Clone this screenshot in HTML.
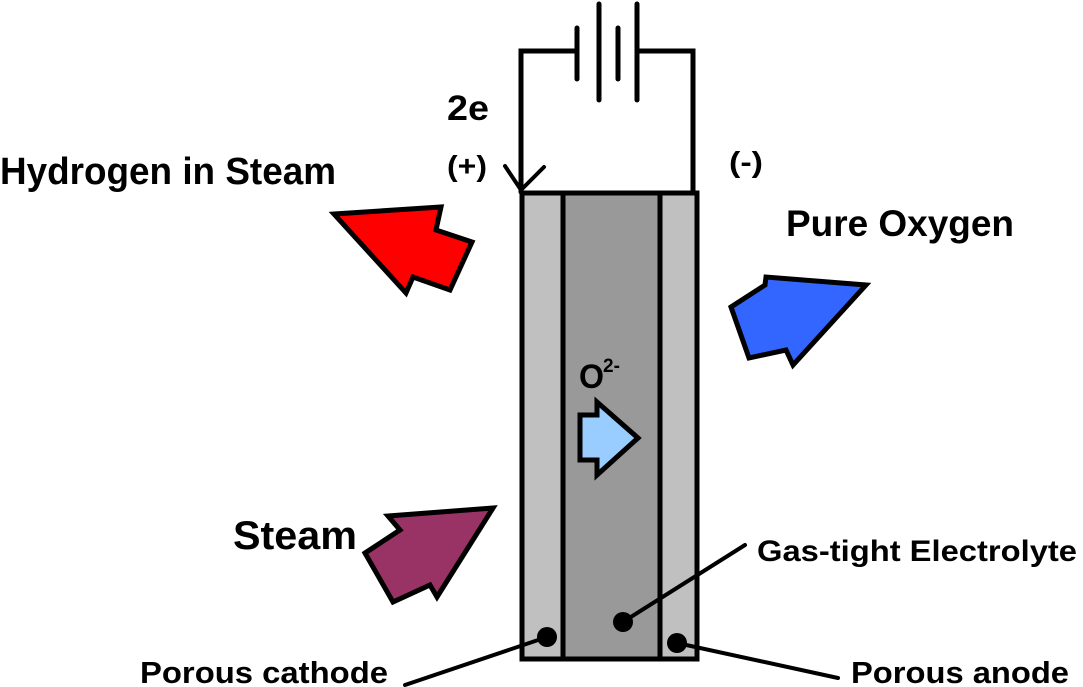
<!DOCTYPE html>
<html><head><meta charset="utf-8"><style>html,body{margin:0;padding:0;background:#fff}svg{display:block}</style></head>
<body>
<svg width="1083" height="687" viewBox="0 0 1083 687" xmlns="http://www.w3.org/2000/svg" style="font-family:'Liberation Sans',Arial,sans-serif;font-weight:bold">
<rect width="1083" height="687" fill="#fff"/>
<g stroke="#000" stroke-width="5" fill="none" stroke-linecap="round" stroke-linejoin="miter">
<polyline points="521,192 521,51 577,51"/>
<polyline points="637,51 693,51 693,192"/>
<line x1="577" y1="28" x2="577" y2="79"/>
<line x1="599" y1="4" x2="599" y2="100"/>
<line x1="618" y1="28" x2="618" y2="79"/>
<line x1="637" y1="4" x2="637" y2="100"/>
<polyline points="505,166 521,190 544,167" stroke-width="4"/>
</g>
<rect x="522" y="193" width="175" height="466" fill="#c0c0c0" stroke="#000" stroke-width="5"/>
<rect x="563" y="193" width="97" height="466" fill="#999" stroke="#000" stroke-width="5"/>
<g stroke="#000" stroke-width="5" stroke-linejoin="miter">
<polygon points="334,214 441,207 436,230 472,242 450,290 413,277 406,293" fill="#f00"/>
<polygon points="731,307 765,285 766,277 866,285 793,365 786,350 749,358" fill="#3366ff"/>
<polygon points="365,553 400,530 388,516 493,508 437,597 430,585 393,602" fill="#993366"/>
<polygon points="580,415 597,415 597,402 638,438 597,475 597,460 580,460" fill="#99ccff"/>
</g>
<g stroke="#000" stroke-width="4" stroke-linecap="round">
<line x1="547" y1="637" x2="405" y2="685"/>
<line x1="623" y1="622" x2="745" y2="545"/>
<line x1="677" y1="643" x2="838" y2="678"/>
</g>
<circle cx="547" cy="637" r="10" fill="#000"/>
<circle cx="623" cy="622" r="10" fill="#000"/>
<circle cx="677" cy="643" r="10" fill="#000"/>
<text x="0" y="184" font-size="38" textLength="336" lengthAdjust="spacingAndGlyphs">Hydrogen in Steam</text>
<text x="447" y="120" font-size="35" textLength="42" lengthAdjust="spacingAndGlyphs">2e</text>
<text x="447" y="176" font-size="29" textLength="40" lengthAdjust="spacingAndGlyphs">(+)</text>
<text x="729" y="172" font-size="29" textLength="34" lengthAdjust="spacingAndGlyphs">(-)</text>
<text x="786" y="236" font-size="37" textLength="228" lengthAdjust="spacingAndGlyphs">Pure Oxygen</text>
<text x="579" y="388" font-size="34" textLength="25" lengthAdjust="spacingAndGlyphs">O</text>
<text x="603" y="372" font-size="19">2-</text>
<text x="233" y="549" font-size="40" textLength="124" lengthAdjust="spacingAndGlyphs">Steam</text>
<text x="757" y="561" font-size="30" textLength="320" lengthAdjust="spacingAndGlyphs">Gas-tight Electrolyte</text>
<text x="140" y="683" font-size="31" textLength="248" lengthAdjust="spacingAndGlyphs">Porous cathode</text>
<text x="851" y="683" font-size="31" textLength="218" lengthAdjust="spacingAndGlyphs">Porous anode</text>
</svg>
</body></html>
